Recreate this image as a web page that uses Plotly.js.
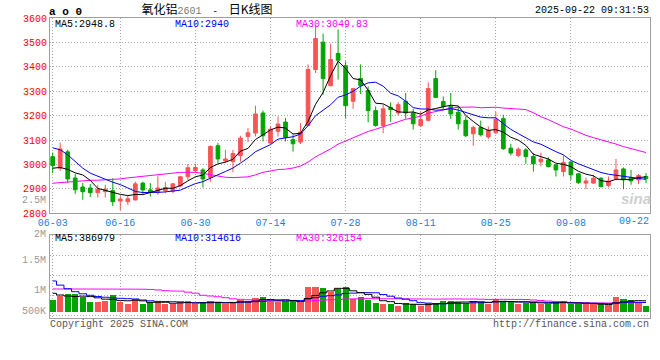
<!DOCTYPE html>
<html>
<head>
<meta charset="utf-8">
<script src="https://cdn.plot.ly/plotly-3.0.1.min.js"></script>
<style>html,body{margin:0;padding:0;background:#fff;}#chart{width:660px;height:360px;}</style>
</head>
<body>
<div id="chart"></div>
<script>
// ---- data ----
const tickLabels = ['06-03','06-16','06-30','07-14','07-28','08-11','08-25','09-08','09-22'];
const tickIdx = [0, 9, 19, 29, 39, 49, 59, 69, 79];

const open = [3032,2985,3052,2945,2908,2904,2885,2889,2893,2851,
  2848,2855,2924,2896,2887,2893,2891,2913,2950,2975,
  2978,2947,3077,3015,3012,3037,3115,3129,3211,3088,
  3136,3174,3102,3092,3160,3389,3501,3323,3455,3405,
  3259,3352,3303,3221,3160,3234,3211,3259,3211,3159,
  3181,3352,3258,3238,3214,3181,3126,3152,3113,3130,
  3188,3067,3037,3060,3033,3011,3019,2999,2971,3010,
  2962,2924,2924,2944,2914,2943,2982,2947,2937,2951];
const high = [3049,3090,3060,2962,2925,2920,2917,2917,2944,2872,
  2873,2930,2930,2924,2952,2929,2924,2954,3002,3003,
  2985,3078,3088,3060,3060,3118,3150,3241,3221,3156,
  3197,3191,3122,3170,3410,3570,3536,3495,3553,3423,
  3314,3410,3320,3238,3245,3255,3256,3293,3228,3218,
  3337,3386,3279,3293,3241,3197,3159,3180,3156,3216,
  3204,3085,3070,3067,3047,3049,3030,3001,3036,3015,
  2965,2947,2958,2948,2951,3023,2988,2978,2961,2965];
const low = [2965,2975,2924,2880,2856,2867,2865,2865,2830,2814,
  2835,2853,2878,2869,2876,2883,2883,2907,2937,2967,
  2906,2930,3006,3006,2969,3012,3092,3115,3095,3084,
  3115,3095,3053,3084,3156,3375,3286,3320,3348,3188,
  3228,3289,3173,3155,3129,3174,3201,3188,3143,3155,
  3177,3273,3225,3187,3143,3113,3077,3115,3104,3126,
  3060,3037,3030,3003,2971,2992,2988,2951,2951,2937,
  2920,2899,2921,2906,2907,2937,2899,2917,2920,2924];
const close = [2996,3064,2941,2897,2889,2885,2899,2899,2848,2859,
  2860,2921,2896,2888,2904,2906,2921,2950,2987,2988,
  2941,3074,3023,3023,3045,3108,3130,3207,3118,3145,
  3166,3111,3085,3133,3389,3516,3352,3430,3427,3241,
  3311,3323,3221,3160,3228,3225,3245,3211,3167,3184,
  3311,3275,3238,3207,3167,3118,3152,3122,3140,3186,
  3065,3047,3063,3033,3003,3022,2992,2978,3008,2958,
  2926,2933,2944,2910,2933,2978,2937,2933,2955,2943];

const ma5 = [2985,2988,2980,2966,2957.6,2935.4,2902.3,2893.9,2884.0,2878.0,
  2873.1,2877.4,2876.9,2884.8,2893.9,2902.9,2902.9,2913.6,2933.3,2950.0,
  2957.1,2987.8,3002.6,3009.9,3021.4,3054.9,3066.1,3102.8,3121.7,3141.8,
  3153.3,3149.4,3125.0,3128.1,3176.8,3246.9,3295.1,3364.1,3422.9,3393.3,
  3352.3,3346.5,3304.6,3251.2,3248.5,3231.2,3215.6,3213.7,3215.1,3206.4,
  3223.6,3229.6,3235.0,3243.0,3239.7,3201.1,3176.5,3153.2,3139.8,3143.4,
  3132.8,3111.7,3100.0,3078.6,3042.1,3033.6,3022.6,3005.6,3000.7,2991.6,
  2972.4,2960.7,2953.9,2934.2,2929.2,2939.7,2940.5,2938.3,2947.3,2949.2];
const ma10 = [3068.6,3060.4,3039.8,3012.3,2985.2,2964.7,2950.7,2940.0,2927.7,2917.8,
  2904.3,2889.9,2885.4,2884.4,2886.0,2888.0,2890.2,2895.2,2909.1,2921.9,
  2930.0,2945.4,2958.1,2971.6,2985.7,3006.0,3027.0,3052.7,3065.8,3081.6,
  3104.1,3107.8,3113.9,3124.9,3159.3,3200.1,3222.3,3244.6,3275.5,3285.1,
  3299.6,3320.8,3334.4,3337.1,3320.9,3291.8,3281.1,3259.2,3233.2,3227.4,
  3227.4,3222.6,3224.4,3229.1,3223.0,3212.4,3203.0,3194.1,3191.4,3191.6,
  3166.9,3144.1,3126.6,3109.2,3092.8,3083.2,3067.2,3052.8,3039.6,3016.9,
  3003.0,2991.6,2979.7,2967.4,2960.4,2956.0,2950.6,2946.1,2940.7,2939.2];
const ma30 = [2923.6,2926.5,2929.8,2932.2,2933.9,2935.5,2935.9,2936.8,2938.4,2941.3,
  2945.4,2948.7,2952.0,2955.2,2959.8,2962.6,2965.9,2968.0,2968.4,2968.0,
  2963.9,2958.5,2952.8,2948.0,2946.6,2947.0,2949.5,2957.7,2968.0,2973.8,
  2979.5,2981.0,2985.8,2993.7,3010.3,3031.4,3046.5,3064.2,3083.5,3096.2,
  3111.2,3124.6,3135.5,3144.5,3155.3,3165.9,3176.8,3185.5,3191.5,3198.0,
  3210.4,3217.1,3224.2,3230.3,3234.4,3234.7,3235.5,3232.6,3233.4,3234.7,
  3231.3,3229.2,3228.4,3225.1,3212.2,3195.8,3183.8,3168.7,3154.7,3145.3,
  3132.5,3119.5,3110.2,3101.9,3092.1,3083.9,3073.6,3064.3,3057.2,3049.2];

// volumes in lots
const volume = [402000,536000,603000,603000,513000,325000,335000,379000,570000,325000,
  268000,436000,268000,325000,335000,268000,268000,335000,369000,258000,
  302000,369000,325000,278000,325000,402000,358000,469000,513000,345000,
  345000,369000,369000,335000,848000,848000,814000,680000,771000,848000,
  436000,503000,392000,302000,258000,278000,201000,302000,258000,191000,
  291000,302000,369000,369000,335000,302000,369000,335000,278000,436000,
  369000,325000,278000,302000,345000,278000,278000,302000,369000,278000,
  268000,258000,258000,258000,235000,513000,436000,402000,325000,211000];
const vma5 = [626000,570000,536000,519000,531400,516000,475800,431000,424400,386800,
  375400,395600,373400,324400,326400,326400,292800,306200,315000,299600,
  306400,326600,324600,306400,319800,339800,337600,366400,413400,417400,
  406000,408200,388200,352600,453200,553800,642800,705000,792200,792200,
  709800,647600,590000,496200,378200,346600,286200,268200,259400,246000,
  248600,268800,282200,304400,333200,335400,348800,342000,323800,344000,
  357400,348600,337200,342000,323800,305600,296200,301000,314400,301000,
  299000,295000,286200,264000,252600,301600,337200,366000,379400,374600];
const vma10 = [1039000,900000,780000,680000,610000,560000,520000,495000,475000,459100,
  445700,435700,402200,374400,356600,350900,344200,339800,319700,313000,
  316400,309700,315400,310700,309700,323100,332100,345500,359900,368600,
  372900,372900,377300,383000,435300,479900,525500,546600,572400,622700,
  631800,645200,647500,644200,585200,528200,466900,429100,377800,312100,
  297600,277500,275200,281900,289600,292000,308800,312100,314100,338600,
  346400,348700,339600,332900,333900,331500,322400,319100,328200,312400,
  302300,295600,293600,289200,278200,301700,317500,327500,323100,316400];
const vma30 = [772000,771000,771000,770000,770000,769000,769000,768000,768000,767000,
  766000,765000,763000,755000,740000,715000,703000,700000,665000,630000,
  560000,536000,510000,479000,440000,425000,410000,390000,382000,380200,
  378300,372800,365000,356000,367200,384600,400600,410600,417300,434800,
  440400,442600,446700,446000,443400,443700,441500,440400,436700,434500,
  434100,431900,433300,436400,436700,433400,433700,429300,421400,424500,
  425300,423800,420800,419700,402900,383900,366000,353400,340000,321000,
  315400,307300,302800,301300,300600,308400,316200,319600,321800,322500];

const maLabels = ['MA5:2948.8', 'MA10:2940', 'MA30:3049.83'];
const vmaLabels = ['MA5:386979', 'MA10:314616', 'MA30:326154'];
const volAxisLabels = ['2.5M', '2M', '1.5M', '1M', '500K'];

// ---- styling ----
const RED = '#f75555', GREEN = '#00a400';
const MA_COLORS = ['#000000', '#0000ff', '#ff00ff'];
const MONO = 'Liberation Mono, DejaVu Sans Mono, monospace';
const GRID = '#a8a8a8';

const idx = open.map((_, i) => i);
const volColors = idx.map(i => close[i] >= open[i] ? RED : GREEN);

// pixel helpers for annotation placement (plot area: x 50..650, y 18..318)
const L = 50, T = 18, W = 600, H = 300;
const px = x => (x - L) / W;
const py = y => (T + H - y) / H;

const traces = [
  {type: 'candlestick', x: idx, open: open, high: high, low: low, close: close,
   xaxis: 'x', yaxis: 'y', whiskerwidth: 0, hoverinfo: 'skip',
   increasing: {line: {color: RED, width: 1}, fillcolor: RED},
   decreasing: {line: {color: GREEN, width: 1}, fillcolor: GREEN}},
  {type: 'scatter', mode: 'lines', x: idx, y: ma30, xaxis: 'x', yaxis: 'y', line: {color: MA_COLORS[2], width: 1}, hoverinfo: 'skip'},
  {type: 'scatter', mode: 'lines', x: idx, y: ma10, xaxis: 'x', yaxis: 'y', line: {color: MA_COLORS[1], width: 1}, hoverinfo: 'skip'},
  {type: 'scatter', mode: 'lines', x: idx, y: ma5, xaxis: 'x', yaxis: 'y', line: {color: MA_COLORS[0], width: 1}, hoverinfo: 'skip'},
  {type: 'bar', x: idx, y: volume, xaxis: 'x2', yaxis: 'y2', marker: {color: volColors, line: {width: 0}}, width: 0.82, hoverinfo: 'skip'},
  {type: 'scatter', mode: 'lines', x: idx, y: vma30, xaxis: 'x2', yaxis: 'y2', line: {color: MA_COLORS[2], width: 1, shape: 'hvh'}, hoverinfo: 'skip'},
  {type: 'scatter', mode: 'lines', x: idx, y: vma10, xaxis: 'x2', yaxis: 'y2', line: {color: MA_COLORS[1], width: 1, shape: 'hvh'}, hoverinfo: 'skip'},
  {type: 'scatter', mode: 'lines', x: idx, y: vma5, xaxis: 'x2', yaxis: 'y2', line: {color: MA_COLORS[0], width: 1, shape: 'hvh'}, hoverinfo: 'skip'}
];

const xRange = [-0.36, 79.53];
const gridTicks = tickIdx.slice(0, -1);
const gridText = tickLabels.slice(0, -1);

const annotations = [];
function ann(text, x, y, xanchor, color, size, extra) {
  annotations.push(Object.assign({text: text, xref: 'paper', yref: 'paper', x: px(x), y: py(y),
    xanchor: xanchor, yanchor: 'middle', showarrow: false, borderpad: 0,
    font: {family: MONO, size: size || 10, color: color}}, extra || {}));
}
ann('<b>a o 0</b>', 48, 12, 'left', '#000', 11);
ann('2025-09-22 09:31:53', 650, 11, 'right', '#000', 10);
[54, 174, 295].forEach((x, k) => ann(maLabels[k], x, 24, 'left', MA_COLORS[k], 10));
[54, 174, 295].forEach((x, k) => ann(vmaLabels[k], x, 238.5, 'left', MA_COLORS[k], 10));
[200.5, 234.5, 260.3, 290.7, 311.3].forEach((y, k) => ann(volAxisLabels[k], 47, y, 'right', '#9a9a9a', 10));
ann(tickLabels[tickLabels.length - 1], 650, 221, 'right', '#1a80e0', 10);
ann('Copyright 2025 SINA.COM', 49, 324, 'left', '#555', 10);
ann('http://finance.sina.com.cn', 650, 324, 'right', '#555', 10);
ann('<b><i>sina</i></b>', 636, 199, 'center', '#cccccc', 15, {font: {family: 'Liberation Sans, Arial', size: 15, color: '#cfcfcf'}});

const NB = '\u00a0';
const layout = {
  width: 660, height: 360,
  margin: {l: L, r: 660 - L - W, t: T, b: 360 - T - H, pad: 0},
  paper_bgcolor: '#ffffff', plot_bgcolor: '#ffffff',
  showlegend: false,
  title: {text: '氧化铝<span style="font-family:Liberation Mono;font-size:10px;color:#7a7a7a">2601</span>' +
                '<span style="font-family:Liberation Mono;font-size:9px">' + NB + NB + '-' + NB + NB + '</span>日K线图',
          x: 207 / 660, xanchor: 'center', y: 1 - 10 / 360, yanchor: 'middle',
          font: {family: 'Noto Sans CJK SC', size: 12, color: '#000'}},
  xaxis: {domain: [0, 1], anchor: 'y', range: xRange, type: 'linear',
          tickmode: 'array', tickvals: gridTicks, ticktext: gridText,
          ticks: '', showgrid: true, gridcolor: GRID, griddash: '1px,2px', gridwidth: 1,
          tickfont: {family: MONO, size: 10, color: '#1a80e0'},
          showline: true, linecolor: '#a0a0a0', mirror: true, zeroline: false,
          rangeslider: {visible: false}, fixedrange: true},
  yaxis: {domain: [(318 - 213.4) / 300, 1], anchor: 'x', range: [2800, 3600],
          tick0: 2800, dtick: 100, ticks: '', showgrid: true, gridcolor: GRID, griddash: '1px,2px',
          tickfont: {family: MONO, size: 10, color: '#ff0000'},
          showline: true, linecolor: '#a0a0a0', mirror: true, zeroline: false, fixedrange: true},
  xaxis2: {domain: [0, 1], anchor: 'y2', range: xRange, type: 'linear',
           tickmode: 'array', tickvals: gridTicks, showticklabels: false,
           ticks: '', showgrid: true, gridcolor: GRID, griddash: '1px,2px',
           showline: true, linecolor: '#a0a0a0', mirror: true, zeroline: false, fixedrange: true},
  yaxis2: {domain: [0, (318 - 235) / 300], anchor: 'x2', range: [-201000, 2579500],
           tick0: 546000, dtick: 670000, showticklabels: false, ticks: '',
           showgrid: true, gridcolor: GRID, griddash: '1px,2px',
           showline: true, linecolor: '#a0a0a0', mirror: true, zeroline: false, fixedrange: true},
  bargap: 0,
  annotations: annotations
};

Plotly.newPlot('chart', traces, layout, {staticPlot: true, displayModeBar: false});
</script>
</body>
</html>
